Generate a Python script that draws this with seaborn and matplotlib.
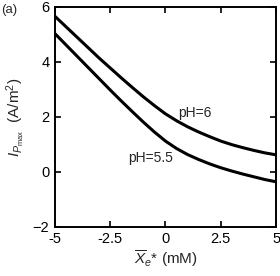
import numpy as np
import pandas as pd
import seaborn as sns
import matplotlib.pyplot as plt

# valores (passo de 0.5 mM)
x_mm = [-5, -4.5, -4, -3.5, -3, -2.5, -2, -1.5, -1, -0.5, 0,
        0.5, 1, 1.5, 2, 2.5, 3, 3.5, 4, 4.5, 5]
ip_ph6 = [5.66, 5.28, 4.90, 4.52, 4.14, 3.78, 3.42, 3.07, 2.73, 2.41, 2.11,
          1.86, 1.64, 1.45, 1.28, 1.12, 0.99, 0.88, 0.78, 0.69, 0.62]
ip_ph55 = [5.03, 4.62, 4.21, 3.80, 3.39, 2.98, 2.58, 2.19, 1.81, 1.45, 1.12,
           0.85, 0.63, 0.45, 0.29, 0.15, 0.03, -0.08, -0.18, -0.28, -0.36]
x_ticks = [-5, -2.5, 0, 2.5, 5]
x_tick_labels = ['-5', '-2.5', '0', '2.5', '5']
y_ticks = [-2, 0, 2, 4, 6]

dados = pd.DataFrame({
    'x': x_mm * 2,
    'ip': ip_ph6 + ip_ph55,
    'pH': ['6'] * len(x_mm) + ['5.5'] * len(x_mm),
})

sns.set_style('ticks')
plt.rcParams['font.family'] = ['Liberation Sans', 'DejaVu Sans']
plt.rcParams['mathtext.fontset'] = 'custom'
plt.rcParams['mathtext.rm'] = 'Liberation Sans'
plt.rcParams['mathtext.it'] = 'Liberation Sans:italic'

fig = plt.figure(figsize=(2.8, 2.76), dpi=100)
ax = fig.add_axes([0.196, 0.178, 0.79, 0.797])

sns.lineplot(data=dados, x='x', y='ip', units='pH', estimator=None,
             color='black', linewidth=2.2, ax=ax, legend=False)

ax.set_xlim(-5, 5)
ax.set_ylim(-2, 6)
ax.set_xticks(x_ticks)
ax.set_xticklabels(x_tick_labels)
ax.set_yticks(y_ticks)
ax.tick_params(direction='in', length=4, width=1.2, labelsize=10.5,
               top=True, right=True, colors='black', pad=4)
for s in ax.spines.values():
    s.set_linewidth(1.4)
    s.set_color('black')

ax.set_xlabel(r'$\overline{X}_{e}$* (mM)', fontsize=11, labelpad=1)
ax.set_ylabel(r'$I_{P_{\rm max}}$  (A/m$^2$)', fontsize=11, labelpad=4)

ax.text(0.57, 2.14, 'pH=6', fontsize=10, va='center', ha='left')
ax.text(0.35, 0.52, 'pH=5.5', fontsize=10, va='center', ha='right')
fig.text(0.005, 0.965, '(a)', fontsize=9.5, va='center', ha='left')

plt.savefig('out.png', dpi=100)
